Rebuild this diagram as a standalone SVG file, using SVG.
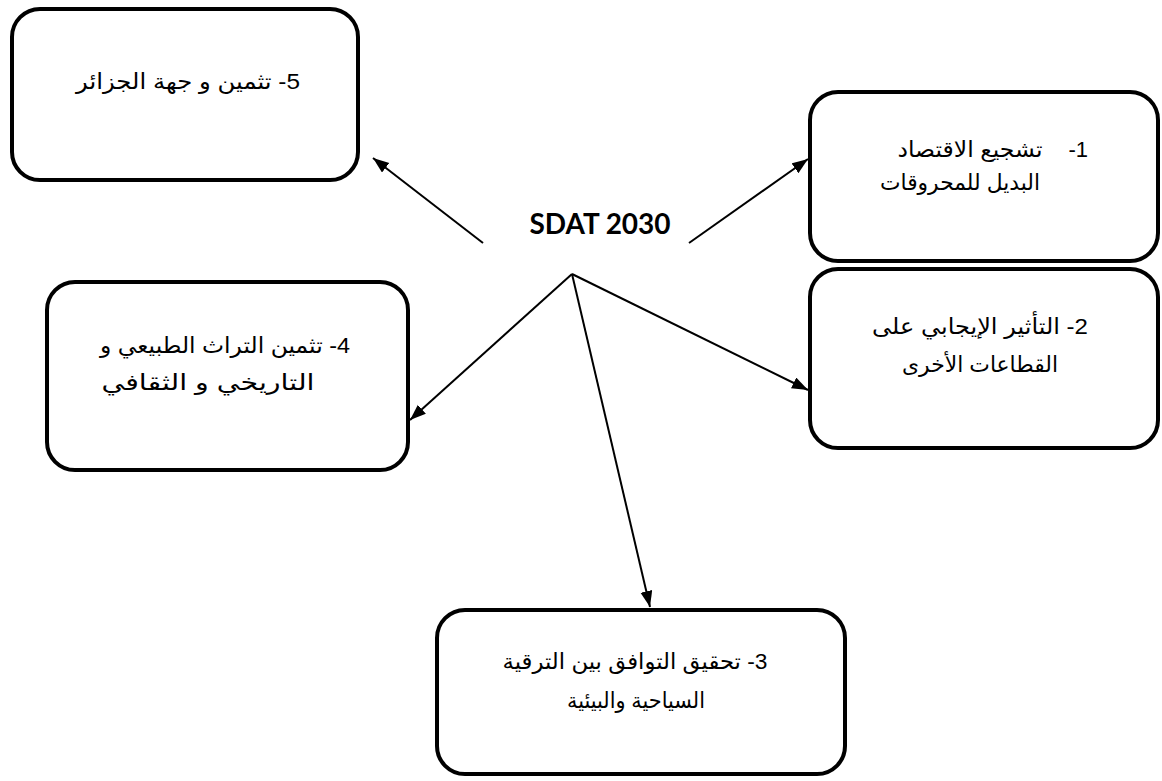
<svg xmlns="http://www.w3.org/2000/svg" width="1162" height="781" viewBox="0 0 1162 781">
<defs>
<style>
.box{fill:#fff;stroke:#000;stroke-width:4}
.t{font-family:"Liberation Sans","DejaVu Sans",sans-serif;font-size:22px;fill:#000}
.c{stroke:#000;stroke-width:2;fill:none}
.title{font-family:Lato,"Open Sans",sans-serif;font-weight:bold;font-size:28px;fill:#000}
</style>
<marker id="ah" markerUnits="userSpaceOnUse" markerWidth="18" markerHeight="14" refX="16" refY="6" orient="auto">
<path d="M0,0 L16,6 L0,12 z" fill="#000"/>
</marker>
</defs>
<rect width="1162" height="781" fill="#fff"/>
<g id="node5">
<rect class="box" x="12" y="9" width="346" height="171" rx="28"/>
<text class="t" x="188" y="89" text-anchor="middle" direction="rtl" textLength="224" lengthAdjust="spacingAndGlyphs">5- تثمين و جهة الجزائر</text>
</g>
<g id="node1">
<rect class="box" x="810" y="92" width="348" height="169" rx="28"/>
<text class="t" x="1088" y="157" text-anchor="end">-1</text>
<text class="t" x="970" y="157" text-anchor="middle" direction="rtl" textLength="145" lengthAdjust="spacingAndGlyphs">تشجيع الاقتصاد</text>
<text class="t" x="960" y="190" text-anchor="middle" direction="rtl" textLength="160" lengthAdjust="spacingAndGlyphs">البديل للمحروقات</text>
</g>
<g id="node2">
<rect class="box" x="810" y="269" width="348" height="179" rx="28"/>
<text class="t" x="980" y="334" text-anchor="middle" direction="rtl" textLength="216" lengthAdjust="spacingAndGlyphs">2- التأثير الإيجابي على</text>
<text class="t" x="980" y="372" text-anchor="middle" direction="rtl" textLength="156" lengthAdjust="spacingAndGlyphs">القطاعات الأخرى</text>
</g>
<g id="node4">
<rect class="box" x="47" y="282" width="361" height="188" rx="28"/>
<text class="t" x="225" y="353" text-anchor="middle" direction="rtl" textLength="250" lengthAdjust="spacingAndGlyphs">4- تثمين التراث الطبيعي و</text>
<text class="t" x="208" y="390" text-anchor="middle" direction="rtl" textLength="213" lengthAdjust="spacingAndGlyphs">التاريخي و الثقافي</text>
</g>
<g id="node3">
<rect class="box" x="437" y="610" width="408" height="164" rx="28"/>
<text class="t" x="635" y="669" text-anchor="middle" direction="rtl" textLength="265" lengthAdjust="spacingAndGlyphs">3- تحقيق التوافق بين الترقية</text>
<text class="t" x="636" y="708" text-anchor="middle" direction="rtl" textLength="138" lengthAdjust="spacingAndGlyphs">السياحية والبيئية</text>
</g>
<g id="center">
<text class="title" x="600" y="234" text-anchor="middle">SDAT 2030</text>
</g>
<g id="connectors">
<line class="c" x1="483" y1="243" x2="373" y2="158" marker-end="url(#ah)"/>
<line class="c" x1="689" y1="243" x2="808" y2="159" marker-end="url(#ah)"/>
<line class="c" x1="572" y1="274" x2="410" y2="420" marker-end="url(#ah)"/>
<line class="c" x1="572" y1="274" x2="808" y2="390" marker-end="url(#ah)"/>
<line class="c" x1="572" y1="274" x2="650" y2="607" marker-end="url(#ah)"/>
</g>
</svg>
